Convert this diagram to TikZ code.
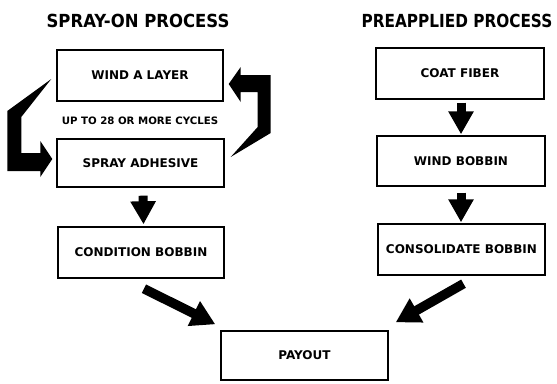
\documentclass[tikz,border=0pt]{standalone}
\usepackage{fontspec}
\usepackage{graphicx}
\setmainfont{DejaVu Sans}
\usetikzlibrary{arrows.meta,calc}
\begin{document}
\begin{tikzpicture}[x=1pt,y=-1pt,
  stepbox/.style={draw=black,line width=1.4pt,inner sep=0pt,
    font=\bfseries\fontsize{12}{14}\selectfont},
  heading/.style={inner sep=0pt,font=\bfseries\fontsize{18}{20}\selectfont},
  note/.style={inner sep=0pt,font=\bfseries\fontsize{10.2}{12}\selectfont},
  fat/.style={line width=9pt,-{Triangle[length=23pt,width=24pt]}},
  slant/.style={line width=9.5pt,-{Triangle[length=24pt,width=26pt]}},
  loop/.style={fill=black}]
\useasboundingbox (0,0) rectangle (557,383);
\fill[white] (0,0) rectangle (557,383);

% column headings
\node[heading] (h1) at (138,21) {\scalebox{0.915}[1]{SPRAY-ON PROCESS}};
\node[heading] (h2) at (457,21) {\scalebox{0.85}[1]{PREAPPLIED PROCESS}};

% spray-on column
\node[stepbox,minimum width=166pt,minimum height=51pt] (wind)  at (140,75.5) {WIND A LAYER};
\node[stepbox,minimum width=167pt,minimum height=48pt] (spray) at (140.5,163) {SPRAY ADHESIVE};
\node[stepbox,minimum width=166pt,minimum height=51pt] (cond)  at (141,252.5) {CONDITION BOBBIN};
\node[note] (cycles) at (140,121) {UP TO 28 OR MORE CYCLES};

% preapplied column
\node[stepbox,minimum width=168pt,minimum height=51pt] (coat)   at (460,73.5) {COAT FIBER};
\node[stepbox,minimum width=168pt,minimum height=50pt] (windb)  at (461,161) {WIND BOBBIN};
\node[stepbox,minimum width=167pt,minimum height=51pt] (consol) at (461.5,249.5) {CONSOLIDATE BOBBIN};

% common end
\node[stepbox,minimum width=167pt,minimum height=49pt] (payout) at (304.5,355.5) {PAYOUT};

% straight arrows
\draw[fat] ($(spray.south)+(2.5,8)$) -- ($(cond.north)+(2.5,-2)$);
\draw[fat] ($(coat.south)+(1,3)$) -- ($(windb.north)+(0,-1)$);
\draw[fat] ($(windb.south)+(0,6)$) -- ($(consol.north)+(-0.5,-1)$);
\draw[slant] ($(cond.south)+(3,10)$) -- ($(payout.north west)+(-5,-6)$);
\draw[slant] ($(consol.south)+(2,8)$) -- ($(payout.north east)+(7,-8)$);

% repeat loop: wind -> spray on the left
\begin{scope}[shift={(spray.west)}]
  \fill[loop] (-5,-84) -- (-49,-52) -- (-49,8) -- (-16,8) -- (-16,14) -- (-4,-4)
    -- (-16,-22) -- (-16,-10) -- (-35,-10) -- (-35,-46) -- cycle;
\end{scope}
% repeat loop: spray -> wind on the right
\begin{scope}[shift={(wind.east)}]
  \fill[loop] (5,8.5) -- (17,-8.5) -- (17,-0.5) -- (47,-0.5) -- (47,57.5) -- (7,81.5)
    -- (34,51.5) -- (34,16.5) -- (17,16.5) -- (17,26.5) -- cycle;
\end{scope}
\end{tikzpicture}
\end{document}
